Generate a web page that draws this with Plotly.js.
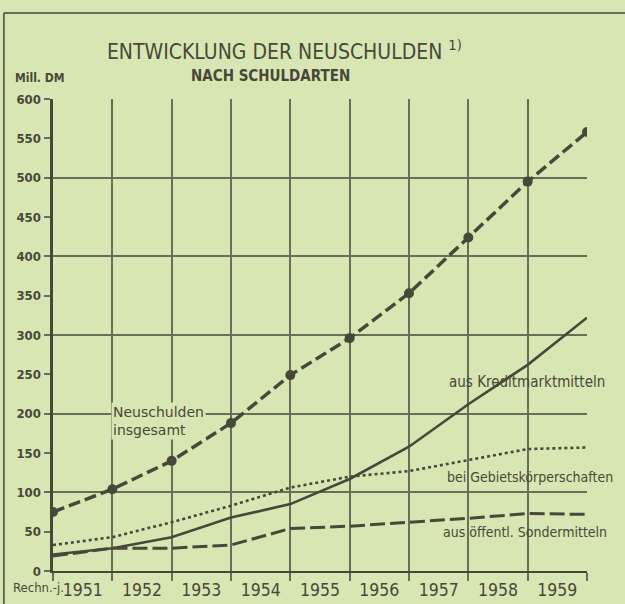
<!DOCTYPE html>
<html>
<head>
<meta charset="utf-8">
<script src="https://cdn.plot.ly/plotly-3.0.1.min.js"></script>
<style>
html,body{margin:0;padding:0;background:#d8e6b3;}
#chart{width:625px;height:604px;}
</style>
</head>
<body>
<div id="chart"></div>
<script>
// Boundaries of fiscal years (start of 1951 ... end of 1959)
const positions = [0,1,2,3,4,5,6,7,8,9];
const yearLabels = ['1951','1952','1953','1954','1955','1956','1957','1958','1959'];
const yearLabelPos = [0.5,1.5,2.5,3.5,4.5,5.5,6.5,7.5,8.5];

const insgesamt = [75,104,140,188,249,296,353,424,495,558];
const kreditmarkt = [21,29,43,68,85,117,158,212,262,322];
const gebiet = [33,43,62,83,106,120,127,141,155,157];
const sonder = [19,29,29,33,54,57,62,67,73,72];

const ink = '#48483a';
const grid = '#6a6d58';
const bg = '#d8e6b3';
const fnt = 'DejaVu Sans Condensed, DejaVu Sans, sans-serif';

const traces = [
  {x: positions, y: kreditmarkt, mode:'lines', line:{color:ink, width:2.6}, hoverinfo:'none'},
  {x: positions, y: gebiet, mode:'lines', line:{color:ink, width:2.6, dash:'dot'}, hoverinfo:'none'},
  {x: positions, y: sonder, mode:'lines', line:{color:ink, width:3, dash:'15px,5px'}, hoverinfo:'none'},
  {x: positions, y: insgesamt, mode:'lines+markers', line:{color:ink, width:3.5, dash:'12px,5px'},
   marker:{color:ink, size:10}, hoverinfo:'none'},
  // helper trace to activate secondary axes
  {x: [0], y: [0], xaxis:'x2', yaxis:'y2', mode:'markers', marker:{opacity:0}, hoverinfo:'none'}
];

const layout = {
  width:625, height:604,
  paper_bgcolor:bg, plot_bgcolor:bg,
  showlegend:false,
  margin:{l:53, r:38, t:99, b:33},
  font:{family:fnt, color:ink},
  title:{text:'ENTWICKLUNG DER NEUSCHULDEN <sup>1)</sup>', x:0.455, xanchor:'center', y:0.915, yanchor:'middle',
         font:{family:fnt, size:21, color:ink}},
  xaxis:{range:[0,9], tickvals:positions, showticklabels:false, ticks:'outside', ticklen:8, tickwidth:2,
         tickcolor:grid, showgrid:true, gridcolor:grid, gridwidth:2, showline:true, linecolor:ink, linewidth:2,
         zeroline:false, fixedrange:true},
  xaxis2:{range:[0,9], overlaying:'x', side:'bottom', tickvals:yearLabelPos, ticktext:yearLabels,
          ticks:'', showgrid:false, showline:false, zeroline:false, ticklabelstandoff:6,
          tickfont:{family:fnt, size:17.5, color:ink}, fixedrange:true},
  yaxis:{range:[0,600], dtick:50, tick0:0, ticks:'outside', ticklen:6, tickwidth:2, tickcolor:grid,
         showgrid:false, showline:true, linecolor:ink, linewidth:3.5, zeroline:false,
         tickfont:{family:fnt, size:13, color:ink, weight:'bold'}, fixedrange:true},
  yaxis2:{range:[0,600], overlaying:'y', dtick:100, tick0:0, showticklabels:false, ticks:'',
          showgrid:true, gridcolor:grid, gridwidth:2, zeroline:false, showline:false, fixedrange:true},
  annotations:[
    {text:'<b>NACH SCHULDARTEN</b>', xref:'paper', yref:'paper', x:0.408, y:1.049, xanchor:'center', yanchor:'middle',
     showarrow:false, font:{family:fnt, size:15, color:ink}},
    {text:'<b>Mill. DM</b>', xref:'paper', yref:'paper', x:-0.074, y:1.045, xanchor:'left', yanchor:'middle',
     showarrow:false, font:{family:fnt, size:12, color:ink}},
    {text:'Rechn.-j.', xref:'paper', yref:'paper', x:-0.078, y:-0.034, xanchor:'left', yanchor:'middle',
     showarrow:false, font:{family:fnt, size:13, color:ink}},
    {text:'Neuschulden<br>insgesamt', xref:'x', yref:'y', x:0.98, y:191, xanchor:'left', yanchor:'middle', align:'left',
     showarrow:false, bgcolor:bg, borderpad:1, font:{family:'DejaVu Sans, sans-serif', size:14, color:ink}},
    {text:'aus Kreditmarktmitteln', xref:'x', yref:'y', x:7.99, y:240, xanchor:'center', yanchor:'middle',
     showarrow:false, font:{family:fnt, size:15, color:ink}},
    {text:'bei Gebietskörperschaften', xref:'x', yref:'y', x:8.04, y:120, xanchor:'center', yanchor:'middle',
     showarrow:false, font:{family:fnt, size:14, color:ink}},
    {text:'aus öffentl. Sondermitteln', xref:'x', yref:'y', x:7.96, y:49, xanchor:'center', yanchor:'middle',
     showarrow:false, font:{family:fnt, size:14, color:ink}}
  ],
  shapes:[
    {type:'line', xref:'paper', yref:'paper', x0:-0.092, x1:1.08, y0:1.182, y1:1.182, line:{color:ink, width:1.5}},
    {type:'line', xref:'paper', yref:'paper', x0:-0.092, x1:-0.092, y0:1.182, y1:-0.08, line:{color:ink, width:1.5}}
  ]
};

Plotly.newPlot('chart', traces, layout, {displayModeBar:false, staticPlot:true});
</script>
</body>
</html>
